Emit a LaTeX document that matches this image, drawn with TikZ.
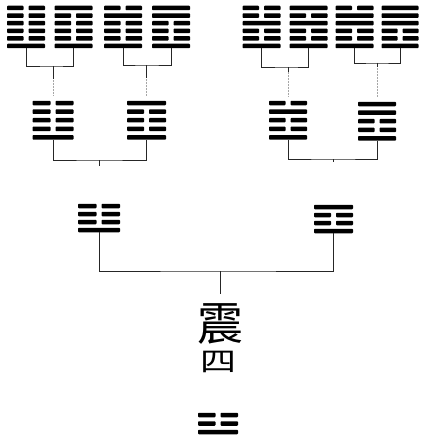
\documentclass[tikz,border=0pt]{standalone}
\usepackage{fontspec}
\newfontfamily\cjk{Noto Sans CJK TC}

% one figure of stacked lines: name, x, y of top line, width, lines top to bottom (1 = solid, 0 = broken)
\newcommand{\gua}[5]{%
	\foreach \l [count=\i] in {#5} {
		\pgfmathsetmacro{\yy}{#3+(\i-1)*\yaosep}
		\ifnum\l=1
		\fill[yao] (#2-#4/2,\yy-2.25) rectangle (#2+#4/2,\yy+2.25);
		\else
		\fill[yao] (#2-#4/2,\yy-2.25) rectangle (#2-2.5,\yy+2.25);
		\fill[yao] (#2+2.5,\yy-2.25) rectangle (#2+#4/2,\yy+2.25);
		\fi
		\xdef\nyao{\i}
	}
	\pgfmathsetmacro{\hh}{(\nyao-1)*\yaosep+4.5}
	\node[gua, minimum width=#4pt, minimum height=\hh pt] (#1) at (#2,#3-2.25) {};
}

\begin{document}
\begin{tikzpicture}[
	x = 1pt, y = -1pt, % pixel grid, y going down
	yao/.style = {black, rounded corners=0.8pt},
	gua/.style = {anchor=north, inner sep=0pt, outer sep=0pt},
	bracket/.style = {line width=0.8pt, black!85},
	faint/.style = {line width=0.5pt, black!35, densely dotted}
	]
	
	\useasboundingbox (0,0) rectangle (420,436);
	
	% six lines
	\def\yaosep{7.6}
	\gua{h1}{26}{8}{38}{0,0,0,0,0,1}
	\gua{h2}{73.5}{8}{38}{1,0,0,0,0,1}
	\gua{h3}{123}{8}{38}{0,1,0,0,0,1}
	\gua{h4}{171}{8}{38}{1,1,0,0,0,1}
	\gua{h5}{261.5}{8}{38}{0,0,1,0,0,1}
	\gua{h6}{308.5}{8}{38}{1,0,1,0,0,1}
	\gua{h7}{354.5}{8}{38}{0,1,1,0,0,1}
	\gua{h8}{400}{8}{37}{1,1,1,0,0,1}
	
	% five lines
	\def\yaosep{8.6}
	\gua{p1}{53}{103}{41}{0,0,0,0,1}
	\gua{p2}{146.5}{103}{39}{1,0,0,0,1}
	\gua{p3}{288}{103}{38}{0,1,0,0,1}
	\gua{p4}{377}{104}{38}{1,1,0,0,1}
	
	% four lines
	\def\yaosep{8}
	\gua{q1}{99}{206}{42}{0,0,0,1}
	\gua{q2}{333.5}{207}{39}{1,0,0,1}
	
	\node[font=\cjk\fontsize{46}{46}\selectfont] (zhen) at (220,324) {震};
	\node[font=\cjk\fontsize{36}{36}\selectfont, yscale=0.75, transform shape] (si) at (218,362) {四};
	
	% three lines
	\def\yaosep{8.5}
	\gua{base}{218}{415}{40}{0,0,1}
	
	\coordinate (j1) at (53,66);
	\coordinate (j2) at (146.5,65);
	\coordinate (j3) at (288,67);
	\coordinate (j4) at (377,63);
	\coordinate (j5) at (99,160);
	\coordinate (j6) at (333.5,159);
	\coordinate (j7) at (220,271);
	
	\draw[bracket] (h1.south) |- (j1) -| (h2.south);
	\draw[bracket] (h3.south) |- (j2) -| (h4.south);
	\draw[bracket] (h5.south) |- (j3) -| (h6.south);
	\draw[bracket] (h7.south) |- (j4) -| (h8.south);
	\draw[bracket] (p1.south) |- (j5) -| (p2.south);
	\draw[bracket] (p3.south) |- (j6) -| (p4.south);
	\draw[bracket] (q1.south) |- (j7) -| (q2.south);
	
	\path[faint, shorten >= 5pt]
	(j1) edge (p1.north)
	(j2) edge (p2.north)
	(j3) edge (p3.north)
	(j4) edge (p4.north);
	
	\draw[bracket] (j1) -- ++(0,13);
	\draw[bracket] (j2) -- ++(0,13);
	\draw[bracket] (j3) -- ++(0,5);
	\draw[bracket] (j4) -- ++(0,4);
	\draw[bracket] (j5) -- ++(0,6);
	\draw[bracket] (j6) -- ++(0,3);
	\draw[bracket, shorten >= 6pt] (j7) -- (zhen.north);
	
\end{tikzpicture}
\end{document}
